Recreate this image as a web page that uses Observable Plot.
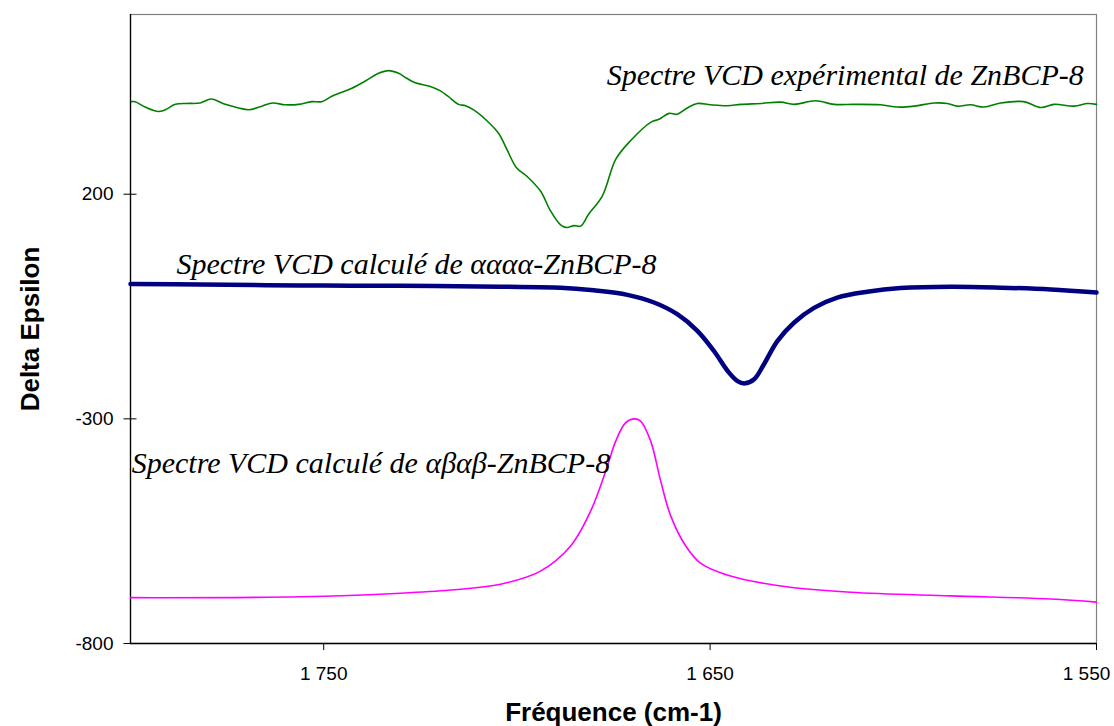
<!DOCTYPE html>
<html>
<head>
<meta charset="utf-8">
<script src="https://cdn.jsdelivr.net/npm/d3@7"></script>
<script src="https://cdn.jsdelivr.net/npm/@observablehq/plot@0.6"></script>
<style>
  html, body { margin: 0; padding: 0; background: white; }
</style>
</head>
<body>
<div id="chart"></div>
<script>
// Experimental VCD spectrum (green)
const expFreq = [1799.8,1798.8,1796.2,1792.8,1791.0,1788.4,1785.4,1782.0,1779.1,1775.5,1772.0,1769.4,1766.0,1763.2,1760.0,1756.5,1753.1,1750.5,1747.9,1745.3,1742.7,1739.2,1735.8,1733.2,1730.6,1728.5,1726.3,1722.4,1719.8,1717.7,1715.1,1713.3,1711.1,1707.7,1704.7,1702.5,1700.1,1697.3,1693.9,1691.3,1688.7,1687.1,1685.2,1683.5,1681.4,1677.9,1674.4,1670.6,1665.4,1663.2,1660.6,1658.5,1655.9,1653.3,1649.9,1645.5,1642.1,1636.9,1631.7,1628.3,1622.7,1617.9,1612.8,1605.9,1601.5,1597.2,1592.0,1588.6,1586.0,1582.6,1579.1,1574.8,1568.8,1564.4,1561.0,1555.8,1552.3,1550.0];
const expVal = [406,406,394,384,388,400,402,403,412,400,392,388,396,403,399,400,406,406,418,427,436,452,469,475,469,458,448,440,430,417,400,397,387,363,335,298,259,239,207,163,132,126,130,129,156,196,278,319,360,367,380,378,392,402,399,397,400,402,405,400,408,400,400,399,394,396,403,402,396,399,394,403,406,393,400,396,402,400];

// Calculated spectrum αααα (navy)
const calcAFreq = [1800,1781.9,1756.0,1730.1,1704.2,1688.7,1680.1,1671.4,1664.5,1658.5,1653.3,1649.0,1645.5,1642.9,1641.0,1638.6,1636.1,1632.6,1628.3,1623.1,1617.1,1609.3,1600.7,1587.7,1574.8,1561.8,1550];
const calcAVal = [0,-1,-3,-4,-6,-8,-14,-24,-41,-67,-104,-149,-193,-216,-221,-212,-179,-127,-86,-53,-30,-17,-9,-6,-8,-12,-19];

// Calculated spectrum αβαβ (magenta)
const calcBFreq = [1800,1756.0,1730.1,1717.2,1704.2,1693.9,1686.1,1680.9,1677.0,1674.4,1671.9,1669.8,1668.0,1665.4,1662.8,1660.2,1656.3,1652.5,1644.7,1631.7,1613.6,1587.7,1561.8,1550];
const calcBVal = [-698,-696,-688,-681,-668,-639,-583,-505,-416,-349,-309,-300,-305,-349,-438,-516,-583,-621,-650,-672,-686,-694,-701,-708];

// Axis ticks
const xTicks = [1750, 1650, 1550];
const yTicks = [200, -300, -800];

// Series labels
const labelTexts = ["Spectre VCD expérimental de ZnBCP-8", "Spectre VCD calculé de αααα-ZnBCP-8", "Spectre VCD calculé de αβαβ-ZnBCP-8"];
const labelFreq = [1553.3, 1788.1, 1799.7];
const labelVal = [443, 22, -421];
const labelAnchor = ["end", "start", "start"];

const xTitle = "Fréquence (cm-1)";
const yTitle = "Delta Epsilon";

const toRows = (fs, vs) => fs.map((f, i) => ({f, v: vs[i]}));
const expRows = toRows(expFreq, expVal);
const calcARows = toRows(calcAFreq, calcAVal);
const calcBRows = toRows(calcBFreq, calcBVal);
const labelRows = labelTexts.map((t, i) => ({t, f: labelFreq[i], v: labelVal[i], a: labelAnchor[i]}));

const fmtX = d3.formatLocale({decimal: ",", thousands: " ", grouping: [3], currency: ["", ""]}).format(",");

const serif = "'Times New Roman', 'Liberation Serif', serif";
const labelStyle = {x: "f", y: "v", text: "t", lineAnchor: "bottom",
  fontFamily: serif, fontStyle: "italic", fontSize: 30, fill: "black"};

const chart = Plot.plot({
  width: 1114,
  height: 726,
  marginLeft: 130,
  marginRight: 18,
  marginTop: 14,
  marginBottom: 83,
  style: {fontFamily: "Arial, 'Liberation Sans', sans-serif", fontSize: "19px", color: "black", background: "white"},
  x: {domain: [1800, 1550]},
  y: {domain: [-800, 600]},
  marks: [
    Plot.frame({stroke: "#808080", strokeWidth: 1.2}),
    Plot.ruleX([1800], {stroke: "black", strokeWidth: 1.3}),
    Plot.ruleY([-800], {stroke: "black", strokeWidth: 1.3}),
    // x ticks (marks only)
    Plot.axisX({ticks: xTicks, tickSize: 7, tickFormat: () => "", label: null}),
    // x tick labels
    Plot.axisX({ticks: xTicks.slice(0, 2), tickSize: 0, tickPadding: 23, tickFormat: fmtX, label: null}),
    Plot.axisX({ticks: xTicks.slice(2), tickSize: 0, tickPadding: 23, dx: -10, tickFormat: fmtX, label: null}),
    // y ticks crossing the axis
    Plot.axisY({ticks: yTicks, tickSize: 13, dx: 6.5, tickFormat: () => "", label: null}),
    Plot.axisY({ticks: yTicks, tickSize: 0, tickPadding: 17, tickFormat: d => String(d), label: null}),
    Plot.line(expRows, {x: "f", y: "v", stroke: "#008000", strokeWidth: 1.6, curve: "catmull-rom"}),
    Plot.line(calcARows, {x: "f", y: "v", stroke: "#000080", strokeWidth: 4.5, curve: "catmull-rom"}),
    Plot.line(calcBRows, {x: "f", y: "v", stroke: "#FF00FF", strokeWidth: 1.6, curve: "catmull-rom"}),
    Plot.text(labelRows.filter(d => d.a === "end"), {...labelStyle, textAnchor: "end"}),
    Plot.text(labelRows.filter(d => d.a === "start"), {...labelStyle, textAnchor: "start"}),
    Plot.text([xTitle], {text: d => d, frameAnchor: "bottom", dy: 77, lineAnchor: "bottom", textAnchor: "middle", fontWeight: "bold", fontSize: 26}),
    Plot.text([yTitle], {text: d => d, frameAnchor: "left", dx: -100, rotate: -90, textAnchor: "middle", lineAnchor: "middle", fontWeight: "bold", fontSize: 26})
  ]
});
document.getElementById("chart").appendChild(chart);
</script>
</body>
</html>
